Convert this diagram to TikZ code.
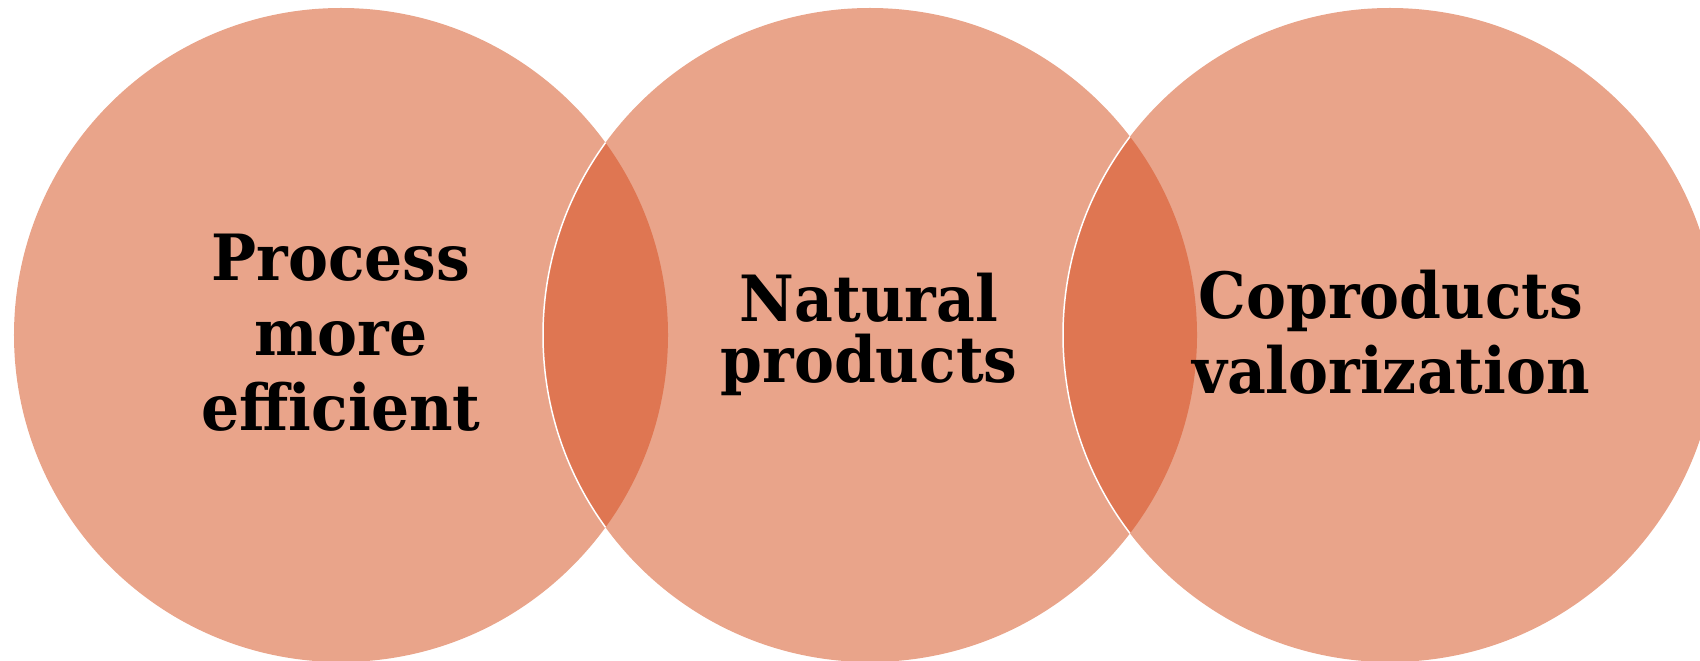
\documentclass[tikz,border=0pt]{standalone}
\usepackage{fontspec}
\setmainfont{DejaVu Serif}[FakeStretch=0.94]
\definecolor{petal}{RGB}{233,164,138}
\definecolor{overlap}{RGB}{223,118,82}

\begin{document}
\begin{tikzpicture}[x=1bp,y=-1bp]
  \tikzset{label text/.style={anchor=base, align=center, text=black,
      font=\fontsize{64}{75}\selectfont\bfseries}}
  \tikzset{rim/.style={white, line width=1.5pt}}
  \clip (0,0) rectangle (1700,661);
  %centres
  \coordinate (c1) at (341,335);
  \coordinate (c2) at (870,335);
  \coordinate (c3) at (1390,335);
  %circles
  \foreach \c in {c1,c2,c3}
    \fill[petal] (\c) circle (327bp);
  %overlaps
  \begin{scope}
    \clip (c1) circle (327bp);
    \fill[overlap] (c2) circle (327bp);
    \draw[rim] (c2) circle (327bp);
  \end{scope}
  \begin{scope}
    \clip (c2) circle (327bp);
    \fill[overlap] (c3) circle (327bp);
    \draw[rim] (c3) circle (327bp);
  \end{scope}
  %labels (anchored at the last baseline)
  \node[label text] (proc) at (341,430) {Process\\more\\efficient};
  \node[label text, font=\fontsize{64}{61}\selectfont\bfseries] (nat) at (869,382) {Natural\\products};
  \node[label text] (coprod) at (1391,393) {Coproducts\\valorization};
\end{tikzpicture}
\end{document}
